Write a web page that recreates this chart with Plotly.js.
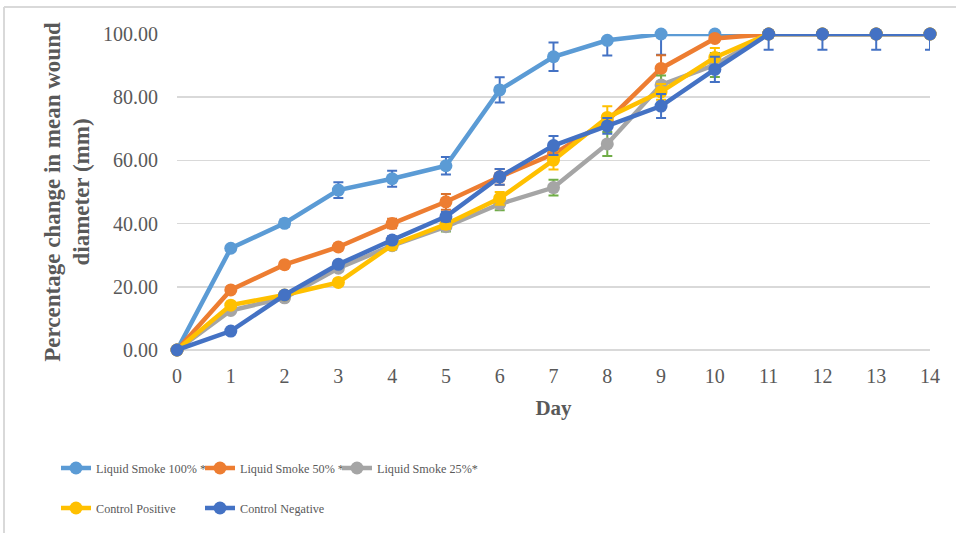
<!DOCTYPE html>
<html>
<head>
<meta charset="utf-8">
<script src="https://cdn.plot.ly/plotly-3.0.1.min.js"></script>
<style>html,body{margin:0;padding:0;background:#fff;}#chart{width:956px;height:533px;}</style>
</head>
<body>
<div id="chart"></div>
<script>
const days = [0,1,2,3,4,5,6,7,8,9,10,11,12,13,14];
const seriesNames = ["Liquid Smoke 100% *","Liquid Smoke 50% *","Liquid Smoke 25%*","Control Positive","Control Negative"];
const ls100 = [0,32.2,40.1,50.6,54.2,58.3,82.3,92.8,98.0,100,100,100,100,100,100];
const ls50  = [0,19.0,27.0,32.6,40.0,46.9,54.8,62.0,72.5,89.1,98.6,100,100,100,100];
const ls25  = [0,12.5,16.5,25.9,33.0,39.0,46.2,51.4,65.2,83.9,90.2,100,100,100,100];
const ctrlPos = [0,14.2,17.4,21.4,33.2,39.8,48.0,60.1,73.6,81.7,92.6,100,100,100,100];
const ctrlNeg = [0,6.0,17.4,27.1,34.8,42.2,54.8,64.7,70.9,77.2,88.8,100,100,100,100];
const ls100ErrUp   = [0,0.8,1.2,2.5,2.5,2.8,4.0,4.5,0,0,0,0,0,0,0];
const ls100ErrDown = [0,0.8,1.2,2.5,2.5,2.8,4.0,4.5,4.8,6.6,0.8,0,0,0,0];
const ls50Err  = [0,0.5,0.8,1.0,1.5,2.5,2.5,2.0,2.0,4.2,1.0,0,0,0,0];
const ls25Err  = [0,0.5,0.8,1.0,1.2,1.5,2.0,2.5,3.8,3.0,3.8,0,0,0,0];
const ctrlPosErr = [0,0.5,0.8,1.0,1.2,1.5,2.0,3.0,3.5,2.5,3.0,0,0,0,0];
const ctrlNegErrUp   = [0,0.5,0.8,1.0,1.2,1.5,2.5,3.0,2.5,3.8,4.0,0,0,0,0];
const ctrlNegErrDown = [0,0.5,0.8,1.0,1.2,1.5,2.5,3.0,2.5,3.8,4.0,5.0,5.0,5.0,5.0];

const lineColors = ["#5B9BD5","#ED7D31","#A5A5A5","#FFC000","#4472C4"];
const errColors  = ["#4472C4","#D9712C","#70AD47","#FFC000","#4472C4"];
const legendIds = ['legend','legend2','legend3','legend4','legend5'];

function mk(i, y, errUp, errDown){
  return {
    x: days, y: y, name: seriesNames[i], type: 'scatter', mode: 'lines+markers',
    line: {color: lineColors[i], width: 4.5},
    marker: {color: lineColors[i], size: 13},
    cliponaxis: false,
    legend: legendIds[i],
    error_y: {type: 'data', symmetric: false, array: errUp, arrayminus: errDown,
              color: errColors[i], thickness: 2, width: 5}
  };
}
const traces = [
  mk(0, ls100, ls100ErrUp, ls100ErrDown),
  mk(1, ls50, ls50Err, ls50Err),
  mk(2, ls25, ls25Err, ls25Err),
  mk(3, ctrlPos, ctrlPosErr, ctrlPosErr),
  mk(4, ctrlNeg, ctrlNegErrUp, ctrlNegErrDown)
];
const serif = "'Liberation Serif', 'Times New Roman', serif";
function leg(px, py){
  return {
    orientation: 'h', xref: 'container', yref: 'container', xanchor: 'left', yanchor: 'middle',
    x: px/956, y: 1 - py/533,
    font: {family: serif, size: 12.2, color: '#595959'}, itemwidth: 30,
    bgcolor: 'rgba(0,0,0,0)'
  };
}
const layout = {
  width: 956, height: 533,
  margin: {l: 177, r: 26, t: 34, b: 183},
  paper_bgcolor: '#ffffff', plot_bgcolor: '#ffffff',
  font: {family: serif, color: '#595959'},
  showlegend: true,
  xaxis: {
    range: [0, 14], tickmode: 'array', tickvals: days, ticktext: days.map(String),
    showgrid: false, zeroline: false, showline: false,
    ticks: 'outside', ticklen: 8, tickcolor: 'rgba(0,0,0,0)',
    tickfont: {family: serif, size: 20, color: '#595959'},
    title: {text: 'Day', font: {family: serif, size: 21, color: '#595959', weight: 'bold'}, standoff: 14}
  },
  yaxis: {
    range: [0, 100], tickmode: 'array', tickvals: [0,20,40,60,80,100],
    tickformat: '.2f', showgrid: true, gridcolor: '#d9d9d9', gridwidth: 1.5,
    zeroline: true, zerolinecolor: '#d9d9d9', zerolinewidth: 1.5, showline: false,
    ticks: 'outside', ticklen: 14, tickcolor: 'rgba(0,0,0,0)',
    tickfont: {family: serif, size: 20, color: '#595959'},
    title: {text: 'Percentage change in mean wound<br>diameter (mm)', font: {family: serif, size: 23, color: '#595959', weight: 'bold'}, standoff: 6}
  },
  legend:  leg(56, 468),
  legend2: leg(200, 468),
  legend3: leg(337, 468),
  legend4: leg(56, 508),
  legend5: leg(200, 508),
  shapes: [
    {type: 'line', xref: 'paper', yref: 'paper', x0: (4-177)/753, x1: (956-177)/753, y0: (350-7)/316, y1: (350-7)/316, line: {color: '#d9d9d9', width: 2}},
    {type: 'line', xref: 'paper', yref: 'paper', x0: (4-177)/753, x1: (4-177)/753, y0: (350-7)/316, y1: (350-533)/316, line: {color: '#d9d9d9', width: 2}}
  ]
};
Plotly.newPlot('chart', traces, layout, {displayModeBar: false, staticPlot: true});
</script>
</body>
</html>
